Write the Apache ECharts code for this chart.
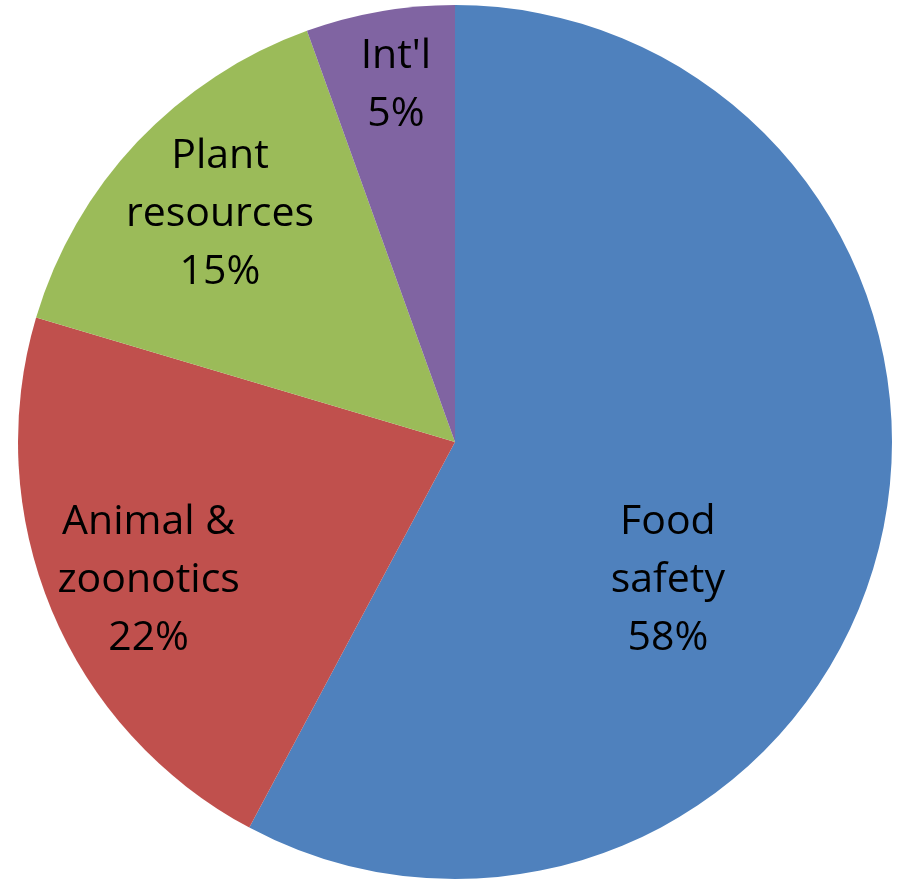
<!DOCTYPE html>
<html>
<head>
<meta charset="utf-8">
<script src="https://cdn.jsdelivr.net/npm/echarts@6/dist/echarts.min.js"></script>
<style>
html,body{margin:0;padding:0;background:#ffffff;}
#chart{width:900px;height:879px;}
</style>
</head>
<body>
<div id="chart"></div>
<script>
const categories = ['Food\nsafety', 'Animal &\nzoonotics', 'Plant\nresources', "Int'l"];
const values = [57.8, 21.8, 14.9, 5.5];
const percentLabels = ['58%', '22%', '15%', '5%'];
const colors = ['#4F81BD', '#C0504D', '#9BBB59', '#8064A2'];
const labelShift = [[-2, 85], [-102, 53], [-74, -76], [-21, -138]];

const chart = echarts.init(document.getElementById('chart'));
chart.setOption({
  animation: false,
  backgroundColor: '#ffffff',
  series: [{
    type: 'pie',
    center: [455, 442],
    radius: 437,
    startAngle: 90,
    clockwise: true,
    avoidLabelOverlap: false,
    data: categories.map((c, i) => ({ name: c, value: values[i], itemStyle: { color: colors[i] } })),
    itemStyle: { borderWidth: 0 },
    label: {
      show: true,
      position: 'inside',
      formatter: p => p.name + '\n' + percentLabels[p.dataIndex],
      color: '#000000',
      fontFamily: '"Open Sans", Lato, sans-serif',
      fontSize: 41,
      lineHeight: 58,
      align: 'center'
    },
    labelLine: { show: false },
    labelLayout: p => ({ dx: labelShift[p.dataIndex][0], dy: labelShift[p.dataIndex][1] })
  }]
});
</script>
</body>
</html>
